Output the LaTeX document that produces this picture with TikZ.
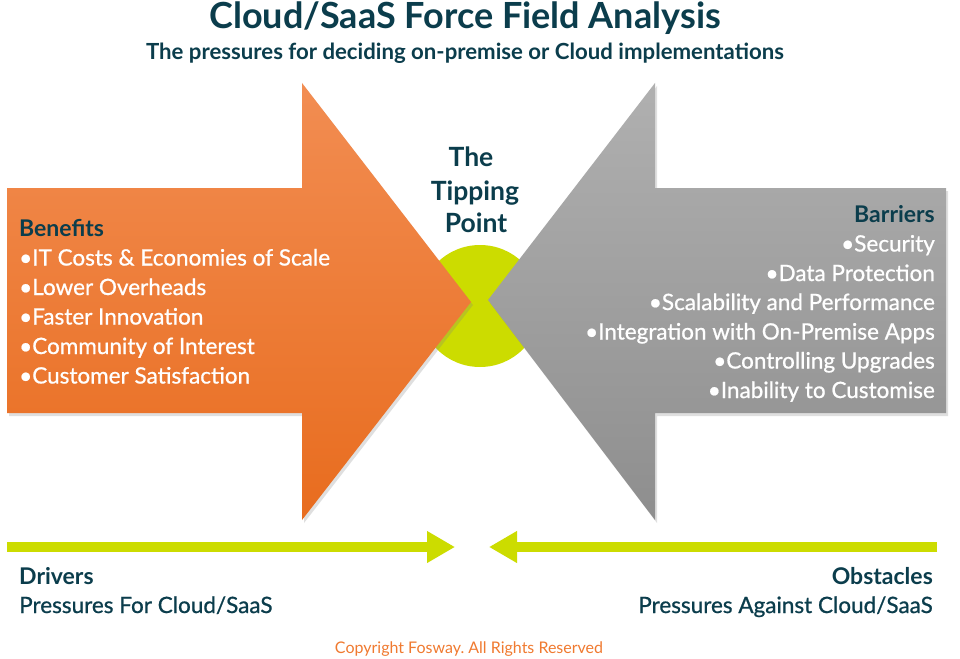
\documentclass[tikz,border=0pt]{standalone}
\usepackage{fontspec}
\setmainfont{Lato}
\newfontfamily\medfont{Lato}[FakeBold=0.8]
\usetikzlibrary{arrows.meta,shadows}
\definecolor{darkteal}{HTML}{0B3D4C}
\definecolor{limegreen}{HTML}{CCDC00}
\definecolor{orangetop}{HTML}{F28D52}
\definecolor{orangebot}{HTML}{E86C1E}
\definecolor{greytop}{HTML}{B0B0B0}
\definecolor{greybot}{HTML}{8E8E8E}
\definecolor{copyorange}{HTML}{F07A30}
\frenchspacing
\tikzset{
  bigarrow/.style={drop shadow={shadow xshift=2pt,shadow yshift=-3pt,opacity=0.25}},
  head/.style={text=darkteal,font=\bfseries\fontsize{23}{27}\selectfont,inner sep=0pt},
  itemtext/.style={text=white,font=\medfont\fontsize{22.5}{27}\selectfont,inner sep=0pt},
  foot/.style={text=darkteal,font=\medfont\fontsize{22.5}{27}\selectfont,inner sep=0pt},
  tip/.style={text=darkteal,font=\bfseries\fontsize{26.5}{30}\selectfont,inner sep=0pt,anchor=base},
  force/.style={limegreen,line width=10pt,-{Triangle[length=28pt,width=30pt]}}
}
\begin{document}
\begin{tikzpicture}[x=1pt,y=-1pt]
\fill[white] (0,0) rectangle (960,658);
\useasboundingbox (0,0) rectangle (960,658);

% title
\node[anchor=base,inner sep=0pt,text=darkteal,font=\bfseries\fontsize{36}{40}\selectfont] (title) at (465,29) {Cloud/SaaS Force Field Analysis};
\node[anchor=base,inner sep=0pt,text=darkteal,font=\bfseries\fontsize{22.2}{26}\selectfont] (subtitle) at (465,60) {The pressures for deciding on-premise or Cloud implementations};

% tipping point circle
\node[circle,fill=limegreen,minimum size=122pt,inner sep=0pt] (tp) at (480,306) {};

% orange arrow
\path[bigarrow,top color=orangetop,bottom color=orangebot]
  (7,188) -- (302,188) -- (302,83) -- (471,302) -- (302,520) -- (302,413) -- (7,413) -- cycle;
% grey arrow
\path[bigarrow,top color=greytop,bottom color=greybot]
  (946,188) -- (655,188) -- (655,83) -- (488,300) -- (655,520) -- (655,413) -- (946,413) -- cycle;

% tipping point label
\node[tip] (tp1) at (471,166) {The};
\node[tip] (tp2) at (475,200) {Tipping};
\node[tip] (tp3) at (476,232) {Point};

% benefits
\node[head,anchor=base west] (ben) at (19,236) {Benefits};
\node[itemtext,anchor=base west] (b1) at (19,265.5) {•IT Costs \& Economies of Scale};
\node[itemtext,anchor=base west] (b2) at (19,295) {•Lower Overheads};
\node[itemtext,anchor=base west] (b3) at (19,324.5) {•Faster Innovation};
\node[itemtext,anchor=base west] (b4) at (19,354) {•Community of Interest};
\node[itemtext,anchor=base west] (b5) at (19,383.5) {•Customer Satisfaction};

% barriers
\node[head,anchor=base east] (bar) at (935,222) {Barriers};
\node[itemtext,anchor=base east] (r1) at (935,251.5) {•Security};
\node[itemtext,anchor=base east] (r2) at (935,281) {•Data Protection};
\node[itemtext,anchor=base east] (r3) at (935,310) {•Scalability and Performance};
\node[itemtext,anchor=base east] (r4) at (935,339.5) {•Integration with On-Premise Apps};
\node[itemtext,anchor=base east] (r5) at (935,368.5) {•Controlling Upgrades};
\node[itemtext,anchor=base east] (r6) at (935,398) {•Inability to Customise};

% bottom force arrows
\coordinate (dstart) at (7,547);
\coordinate (dend) at (455,547);
\coordinate (ostart) at (937,547);
\coordinate (oend) at (489,547);
\draw[force] (dstart) -- (dend);
\draw[force] (ostart) -- (oend);

\node[head,anchor=base west] (drv) at (19,584) {Drivers};
\node[foot,anchor=base west] (drv2) at (19,613) {Pressures For Cloud/SaaS};
\node[head,anchor=base east] (obs) at (933,584) {Obstacles};
\node[foot,anchor=base east] (obs2) at (933,613) {Pressures Against Cloud/SaaS};

\node[anchor=base,inner sep=0pt,text=copyorange,font=\fontsize{16}{19}\selectfont] (copy) at (469,653) {Copyright Fosway. All Rights Reserved};
\end{tikzpicture}
\end{document}
